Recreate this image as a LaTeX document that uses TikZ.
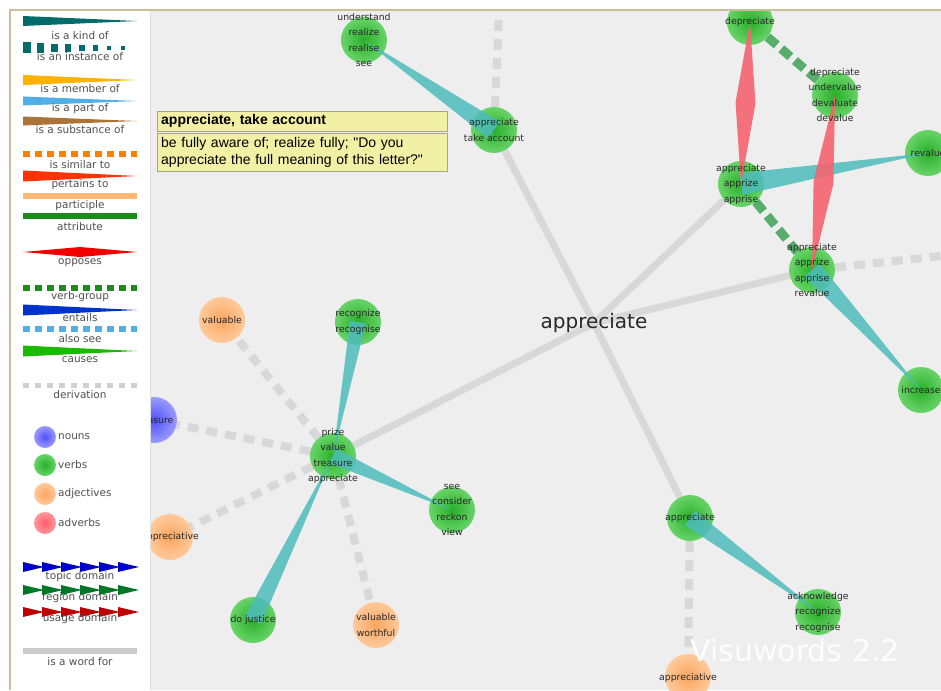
\documentclass[tikz,border=0pt]{standalone}
\usepackage{fontspec}
\setmainfont{DejaVu Sans}
\newfontfamily\infofont{Liberation Sans}
\usepackage{tikz}
\usetikzlibrary{calc}

\definecolor{panelbg}{RGB}{238,238,238}
\definecolor{tanline}{RGB}{205,190,155}
\definecolor{wordgray}{RGB}{216,216,216}
\definecolor{kindteal}{RGB}{78,188,188}
\definecolor{oppred}{RGB}{245,100,112}
\definecolor{vgroup}{RGB}{88,172,108}
\definecolor{labelgray}{RGB}{80,80,80}
\definecolor{wordtext}{RGB}{40,40,40}
\definecolor{infoyellow}{RGB}{242,240,165}
\definecolor{infoline}{RGB}{165,165,140}
\definecolor{verbin}{RGB}{40,175,40}
\definecolor{verbout}{RGB}{105,212,105}
\definecolor{adjin}{RGB}{250,165,95}
\definecolor{adjout}{RGB}{255,202,155}
\definecolor{nounin}{RGB}{80,80,250}
\definecolor{nounout}{RGB}{155,155,255}
\definecolor{advin}{RGB}{255,95,105}
\definecolor{advout}{RGB}{255,150,155}

\pgfdeclarelayer{background}
\pgfsetlayers{background,main}

\newcommand{\wordfont}{\fontsize{9.3}{15.5}\selectfont}
\newcommand{\kindof}[3]{\fill[kindteal, fill opacity=.85] ($(#1.center)!#3pt!90:(#2.center)$) -- ($(#1.center)!#3pt!-90:(#2.center)$) -- (#2.center) -- cycle;}
\newcommand{\opposes}[2]{\fill[oppred, fill opacity=.9] (#1.center) -- ($(#1.center)!.5!(#2.center)!10pt!90:(#2.center)$) -- (#2.center) -- ($(#1.center)!.5!(#2.center)!10pt!-90:(#2.center)$) -- cycle;}
\newcommand{\legwedge}[3]{\fill[#1] (23,{#2-#3}) -- (23,{#2+#3}) -- (137,#2) -- cycle;}

\tikzset{
  ball/.style={circle, minimum size=46, inner sep=0pt},
  verb/.style={ball, inner color=verbin, outer color=verbout},
  adj/.style={ball, inner color=adjin, outer color=adjout},
  noun/.style={ball, inner color=nounin, outer color=nounout},
  word/.style={align=center, inner sep=0pt, text=wordtext, font=\wordfont},
  wordfor/.style={wordgray, line width=7},
  deriv/.style={wordgray, line width=8, dash pattern=on 11 off 8},
  vgroupline/.style={vgroup, line width=9, dash pattern=on 12 off 6},
  infobox/.style={draw=infoline, fill=infoyellow, anchor=north west, inner sep=4, text width=282, align=left, font=\infofont\fontsize{14}{17}\selectfont},
  leglabel/.style={text=labelgray, inner sep=0pt, font=\fontsize{10.5}{12}\selectfont},
  legball/.style={circle, minimum size=22, inner sep=0pt},
}

\begin{document}
\begin{tikzpicture}[x=1pt, y=-1pt]
            \useasboundingbox (0,0) rectangle (941,690);

            \begin{scope}
            \clip (150,11) rectangle (941,690);
            \coordinate (hubc) at (594,323);
            \coordinate (offtop) at (499,12);
            \coordinate (offright) at (941,256);

            % synsets
            \node at (364,40) [verb] (realize) {};
            \node at (494,130) [verb] (takeacc) {};
            \node at (750,22) [verb] (deprec) {};
            \node at (835,95) [verb] (underval) {};
            \node at (928,153) [verb] (revalue) {};
            \node at (741,184) [verb] (apprize) {};
            \node at (812,270) [verb] (apprise) {};
            \node at (921,390) [verb] (increase) {};
            \node at (333,456) [verb] (prize) {};
            \node at (358,322) [verb] (recognize) {};
            \node at (222,320) [adj] (valuable) {};
            \node at (154,420) [noun] (treasure) {};
            \node at (170,537) [adj] (apprtive) {};
            \node at (253,620) [verb] (dojustice) {};
            \node at (376,625) [adj] (worthful) {};
            \node at (452,510) [verb] (consider) {};
            \node at (690,518) [verb] (lowappr) {};
            \node at (818,612) [verb] (acknow) {};
            \node at (688,677) [adj] (apprtivetwo) {};

            \begin{pgfonlayer}{background}
            \fill[white] (0,0) rectangle (941,690);
            \fill[panelbg] (150,11) rectangle (941,690);
            % is a word for
            \draw[wordfor] (hubc) -- (takeacc);
            \draw[wordfor] (hubc) -- (lowappr);
            \draw[wordfor] (hubc) -- (prize);
            \draw[wordfor] (hubc) -- (apprize);
            \draw[wordfor] (hubc) -- (apprise);
            % derivation
            \draw[deriv] (takeacc) -- (offtop);
            \draw[deriv] (apprise) -- (offright);
            \draw[deriv] (lowappr) -- (apprtivetwo);
            \draw[deriv] (prize) -- (valuable);
            \draw[deriv] (prize) -- (treasure);
            \draw[deriv] (prize) -- (apprtive);
            \draw[deriv] (prize) -- (worthful);
            \end{pgfonlayer}

            % is a kind of
            \kindof{takeacc}{realize}{10}
            \kindof{recognize}{prize}{8}
            \kindof{prize}{consider}{8}
            \kindof{dojustice}{prize}{9}
            \kindof{apprize}{revalue}{11}
            \kindof{apprise}{increase}{10}
            \kindof{lowappr}{acknow}{9}

            % opposes
            \opposes{deprec}{apprize}
            \opposes{underval}{apprise}

            % verb group
            \draw[vgroupline] (deprec) -- (underval);
            \draw[vgroupline] (apprize) -- (apprise);

            % words
            \node at (realize) [word] (realizeL) {understand\\realize\\realise\\see};
            \node at (takeacc) [word] (takeaccL) {appreciate\\take account};
            \node at (deprec) [word] (deprecL) {depreciate};
            \node at (underval) [word] (undervalL) {depreciate\\undervalue\\devaluate\\devalue};
            \node at (revalue) [word] (revalueL) {revalue};
            \node at (apprize) [word] (apprizeL) {appreciate\\apprize\\apprise};
            \node at (apprise) [word] (appriseL) {appreciate\\apprize\\apprise\\revalue};
            \node at (increase) [word] (increaseL) {increase};
            \node at (prize) [word] (prizeL) {prize\\value\\treasure\\appreciate};
            \node at (recognize) [word] (recognizeL) {recognize\\recognise};
            \node at (valuable) [word] (valuableL) {valuable};
            \node at (treasure) [word] (treasureL) {treasure};
            \node at (apprtive) [word] (apprtiveL) {appreciative};
            \node at (dojustice) [word] (dojusticeL) {do justice};
            \node at (worthful) [word] (worthfulL) {valuable\\worthful};
            \node at (consider) [word] (considerL) {see\\consider\\reckon\\view};
            \node at (lowappr) [word] (lowapprL) {appreciate};
            \node at (acknow) [word] (acknowL) {acknowledge\\recognize\\recognise};
            \node at (apprtivetwo) [word, yshift=-1] (apprtivetwoL) {appreciative};

            \node at (hubc) [text=wordtext, font=\fontsize{20}{24}\selectfont] (hub) {appreciate};

            % gloss box
            \node at (157,111) [infobox, minimum height=20, font=\infofont\bfseries\fontsize{14}{17}\selectfont, inner ysep=2] (infotitle) {appreciate, take account};
            \node at (157,133) [infobox, minimum height=38, inner ysep=3] (infodesc) {be fully aware of; realize fully; "Do you\\appreciate the full meaning of this letter?"};

            \node at (795,650) [text=white, opacity=.9, font=\fontsize{30}{30}\selectfont] (brand) {Visuwords 2.2};
            \end{scope}

            % frame
            \draw[black!12] (150,11) -- (150,690);
            \draw[tanline, line width=2.5] (9,10) -- (941,10);
            \draw[tanline, line width=2.5] (10,9) -- (10,690);

            % legend
            \legwedge{teal!85!black}{21}{5}
            \node at (80,36) [leglabel] (lkind) {is a kind of};
            \foreach \i in {0,...,7}
                \fill[teal!85!black] ({23+14*\i},{48-(11-1.1*\i)/2}) rectangle ++({8-0.6*\i},{11-1.1*\i});
            \node at (80,57) [leglabel] (linstance) {is an instance of};
            \legwedge{orange!60!yellow}{80}{5}
            \node at (80,89) [leglabel] (lmember) {is a member of};
            \legwedge{cyan!80!blue!70}{101}{4.5}
            \node at (80,109) [leglabel] (lpart) {is a part of};
            \legwedge{brown!90!black}{121}{4.5}
            \node at (80,130) [leglabel] (lsubst) {is a substance of};
            \draw[orange, line width=6, dash pattern=on 7 off 5] (23,154) -- (137,154);
            \node at (80,165) [leglabel] (lsimilar) {is similar to};
            \legwedge{red!60!orange}{176}{5.5}
            \node at (80,185) [leglabel] (lpertains) {pertains to};
            \draw[orange!55, line width=6] (23,196) -- (137,196);
            \node at (80,206) [leglabel] (lparticiple) {participle};
            \draw[green!50!black!90, line width=6] (23,216) -- (137,216);
            \node at (80,227) [leglabel] (lattribute) {attribute};
            \fill[red!95!black] (23,252) -- (80,{252-5}) -- (137,252) -- (80,{252+5}) -- cycle;
            \node at (80,263) [leglabel] (lopposes) {opposes};
            \draw[green!50!black!90, line width=6.5, dash pattern=on 7 off 5] (23,288) -- (137,288);
            \node at (80,297) [leglabel] (lverbgroup) {verb-group};
            \legwedge{blue!75!cyan!80!black}{310}{5.5}
            \node at (80,318) [leglabel] (lentails) {entails};
            \draw[cyan!80!blue!70, line width=6, dash pattern=on 7 off 5] (23,329) -- (137,329);
            \node at (80,339) [leglabel] (lalsosee) {also see};
            \legwedge{green!70!black!90!yellow}{351}{5.5}
            \node at (80,360) [leglabel] (lcauses) {causes};
            \draw[black!18, line width=5, dash pattern=on 6 off 6] (23,385) -- (137,385);
            \node at (80,395) [leglabel] (lderiv) {derivation};

            \node at (45,437) [legball, inner color=nounin, outer color=nounout] (lnounB) {};
            \node at (58,437) [leglabel, anchor=west] (lnoun) {nouns};
            \node at (45,465) [legball, inner color=verbin, outer color=verbout] (lverbB) {};
            \node at (58,465) [leglabel, anchor=west] (lverb) {verbs};
            \node at (45,494) [legball, inner color=adjin, outer color=adjout] (ladjB) {};
            \node at (58,494) [leglabel, anchor=west] (ladj) {adjectives};
            \node at (45,523) [legball, inner color=advin, outer color=advout] (ladvB) {};
            \node at (58,523) [leglabel, anchor=west] (ladv) {adverbs};

            \foreach \i in {0,...,5} {
                \fill[blue!80!black] ({23+19*\i},562) -- ({23+19*\i},572) -- ({44+19*\i},567) -- cycle;
                \fill[green!45!black!70!teal] ({23+19*\i},585) -- ({23+19*\i},595) -- ({44+19*\i},590) -- cycle;
                \fill[red!75!black] ({23+19*\i},607) -- ({23+19*\i},617) -- ({44+19*\i},612) -- cycle;
            }
            \node at (80,577) [leglabel] (ltopic) {topic domain};
            \node at (80,598) [leglabel] (lregion) {region domain};
            \node at (80,619) [leglabel] (lusage) {usage domain};
            \draw[black!20, line width=6] (23,651) -- (137,651);
            \node at (80,662) [leglabel] (lwordfor) {is a word for};
\end{tikzpicture}
\end{document}
